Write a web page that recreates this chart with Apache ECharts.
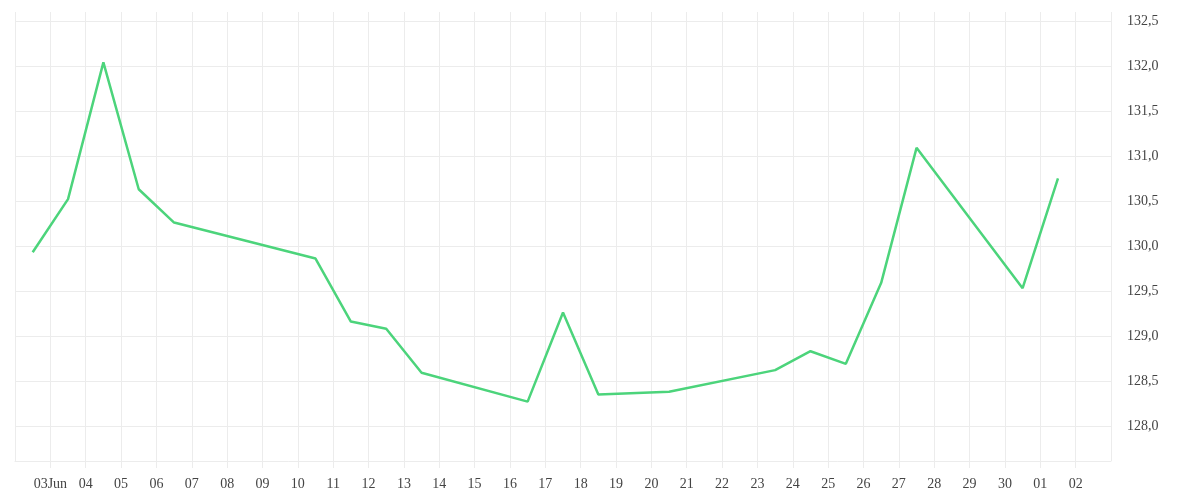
<!DOCTYPE html>
<html>
<head>
<meta charset="utf-8">
<script src="https://cdn.jsdelivr.net/npm/echarts@6/dist/echarts.min.js"></script>
<style>
html,body{margin:0;padding:0;background:#fff;}
#chart{width:1200px;height:500px;}
</style>
</head>
<body>
<div id="chart"></div>
<script>
// Data (daily closes, plotted at mid-day)
var dates = [
  '2024-06-02T12:00:00Z','2024-06-03T12:00:00Z','2024-06-04T12:00:00Z','2024-06-05T12:00:00Z',
  '2024-06-06T12:00:00Z','2024-06-10T12:00:00Z','2024-06-11T12:00:00Z','2024-06-12T12:00:00Z',
  '2024-06-13T12:00:00Z','2024-06-16T12:00:00Z','2024-06-17T12:00:00Z','2024-06-18T12:00:00Z',
  '2024-06-20T12:00:00Z','2024-06-23T12:00:00Z','2024-06-24T12:00:00Z','2024-06-25T12:00:00Z',
  '2024-06-26T12:00:00Z','2024-06-27T12:00:00Z','2024-06-30T12:00:00Z','2024-07-01T12:00:00Z'
];
var values = [
  129.93, 130.52, 132.04, 130.63,
  130.26, 129.86, 129.16, 129.08,
  128.59, 128.27, 129.26, 128.35,
  128.38, 128.62, 128.83, 128.69,
  129.59, 131.09, 129.53, 130.75
];
var yTicks = [128.0, 128.5, 129.0, 129.5, 130.0, 130.5, 131.0, 131.5, 132.0, 132.5];
var xStart = '2024-06-02T00:00:00Z';
var xEnd = '2024-07-03T00:00:00Z';
var yMin = 127.61;
var yMax = 132.6;

var DAY = 86400000;
var seriesData = dates.map(function (d, i) { return [Date.parse(d), values[i]]; });
var firstLabel = Date.parse(xStart) + DAY;
var MONTHS = ['Jan','Feb','Mar','Apr','May','Jun','Jul','Aug','Sep','Oct','Nov','Dec'];
function pad(n) { return (n < 10 ? '0' : '') + n; }

var gridColor = '#ececec';
var textStyle = { fontFamily: 'Liberation Serif', fontSize: 14, color: '#444' };

var chart = echarts.init(document.getElementById('chart'));
chart.setOption({
  animation: false,
  backgroundColor: '#fff',
  grid: { left: 15, right: 89, top: 12, bottom: 39, containLabel: false },
  xAxis: {
    type: 'value',
    min: Date.parse(xStart),
    max: Date.parse(xEnd),
    interval: DAY,
    axisLine: { show: true, lineStyle: { color: gridColor, width: 1 } },
    axisTick: { show: true, length: 7, lineStyle: { color: gridColor } },
    splitLine: { show: true, lineStyle: { color: gridColor, width: 1 } },
    axisLabel: Object.assign({
      margin: 16,
      showMinLabel: false,
      showMaxLabel: false,
      formatter: function (v) {
        var d = new Date(v);
        var s = pad(d.getUTCDate());
        if (v === firstLabel) s += MONTHS[d.getUTCMonth()];
        return s;
      }
    }, textStyle)
  },
  yAxis: {
    type: 'value',
    position: 'right',
    min: yMin,
    max: yMax,
    axisLine: { show: false },
    axisTick: { show: false, customValues: yTicks },
    splitLine: { show: true, lineStyle: { color: gridColor, width: 1 } },
    axisLabel: Object.assign({
      margin: 16,
      padding: [4, 0, 0, 0],
      customValues: yTicks,
      formatter: function (v) { return v.toFixed(1).replace('.', ','); }
    }, textStyle)
  },
  series: [{
    type: 'line',
    data: seriesData,
    showSymbol: false,
    symbol: 'none',
    lineStyle: { color: '#4cd47b', width: 2.5 },
    itemStyle: { color: '#4cd47b' }
  }]
});
</script>
</body>
</html>
